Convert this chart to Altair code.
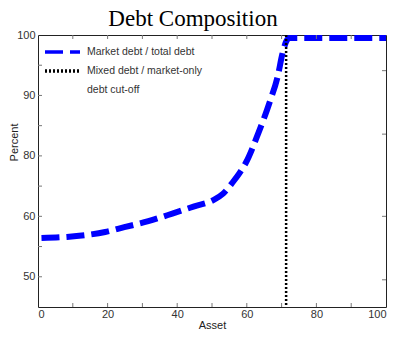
import altair as alt
import pandas as pd

# ---- data ----
asset = [1.0, 8.3, 13.8, 19.3, 24.8, 31.7, 38.6, 44.9, 50.1, 53.2, 55.9, 57.9, 59.8,
         63.4, 66.7, 68.9, 70.2, 71.3, 72.2, 100.0]
market_share = [56.4, 56.6, 56.9, 57.4, 58.2, 59.2, 60.9, 63.3, 65.2, 67.5, 71.2, 74.3, 77.9,
                83.9, 89.1, 93.2, 96.8, 98.9, 99.5, 99.5]
cutoff_asset = [71.3]

series_names = ["Market debt / total debt", "Mixed debt / market-only", "debt cut-off"]
series_colors = ["#0000ff", "#000000", "transparent"]
series_dash = [[18, 7], [2, 2], [1, 0]]

x_label_values = [0, 20, 40, 60, 80, 100]
x_tick_values = [10, 20, 30, 40, 50, 60, 70, 80, 90]
y_label_values = [50, 60, 80, 90, 100]
y_tick_values = [50, 55, 60, 70, 80, 85, 90, 95]
y_right_tick_values = [49.5, 60, 83.6, 94.1]

# the labelled values 100, 90, 80, 60, 50 sit at equal spacing: piecewise linear scale
y_domain = [45, 50, 60, 80, 90, 100]
W, H = 348, 272
step = H / 4.5
y_range = [4.5 * step, 4 * step, 3 * step, 2 * step, 1 * step, 0]

line_df = pd.DataFrame({"asset": asset, "pct": market_share, "series": series_names[0]})
cut_df = pd.DataFrame({"asset": cutoff_asset, "series": series_names[1]})
xt_df = pd.DataFrame({"asset": x_tick_values})
yt_df = pd.DataFrame({"pct": y_tick_values})
yrt_df = pd.DataFrame({"pct": y_right_tick_values})

xscale = alt.Scale(domain=[0, 100], nice=False, zero=False)
yscale = alt.Scale(domain=y_domain, range=y_range, nice=False, zero=False)
cscale = alt.Scale(domain=series_names, range=series_colors)
dscale = alt.Scale(domain=series_names, range=series_dash)

x_axis = alt.Axis(values=x_label_values, ticks=False, domain=False, grid=False,
                  labelPadding=1, labelFont="Liberation Sans", labelFontSize=11,
                  labelColor="#333333", title="Asset",
                  titleFont="Liberation Sans", titleFontSize=11,
                  titleFontWeight="normal", titleColor="#222222", titlePadding=0)
y_axis = alt.Axis(values=y_label_values, ticks=False, domain=False, grid=False,
                  labelPadding=3, labelFont="Liberation Sans", labelFontSize=11,
                  labelColor="#333333", title="Percent", titleFont="Liberation Sans",
                  titleFontSize=11, titleFontWeight="normal", titleColor="#222222",
                  titleX=-19, titleY=107)

leg = alt.Legend(
    title=None, orient="none", legendX=5, legendY=11, padding=0,
    symbolType="stroke", symbolSize=1225, symbolStrokeWidth=3.5,
    symbolOffset=0, clipHeight=12, rowPadding=7, labelOffset=5,
    labelFont="Liberation Sans", labelFontSize=10.5, labelColor="#333333",
    labelLimit=300,
)

X = alt.X("asset:Q", scale=xscale, axis=x_axis)
Y = alt.Y("pct:Q", scale=yscale, axis=y_axis)

line = alt.Chart(line_df).mark_line(strokeWidth=6, strokeCap="butt", interpolate="monotone").encode(
    x=X, y=Y,
    color=alt.Color("series:N", scale=cscale, legend=leg),
    strokeDash=alt.StrokeDash("series:N", scale=dscale, legend=leg),
)

cut = alt.Chart(cut_df).mark_rule(strokeWidth=2.5).encode(
    x=X,
    color=alt.Color("series:N", scale=cscale, legend=leg),
    strokeDash=alt.StrokeDash("series:N", scale=dscale, legend=leg),
)

tick_color = "#777777"
xt_bottom = alt.Chart(xt_df).mark_rule(color=tick_color, strokeWidth=1).encode(
    x=X, y=alt.value(H), y2=alt.value(H - 4))
xt_top = alt.Chart(xt_df).mark_rule(color=tick_color, strokeWidth=1).encode(
    x=X, y=alt.value(0), y2=alt.value(4))
yt_left = alt.Chart(yt_df).mark_rule(color=tick_color, strokeWidth=1).encode(
    y=Y, x=alt.value(0), x2=alt.value(4))
yt_right = alt.Chart(yrt_df).mark_rule(color=tick_color, strokeWidth=1).encode(
    y=Y, x=alt.value(W), x2=alt.value(W - 4))

chart = alt.layer(line, cut, xt_bottom, xt_top, yt_left, yt_right).properties(
    width=W, height=H,
    padding=0,
    background="white",
    title=alt.TitleParams("Debt Composition", font="Liberation Serif", fontSize=23,
                          fontWeight="normal", color="#000000", anchor="middle",
                          dx=-19, offset=0, dy=5),
).configure_view(stroke="#222222", strokeWidth=1)

chart.save("out.html", embed_options={"renderer": "svg", "actions": False})
